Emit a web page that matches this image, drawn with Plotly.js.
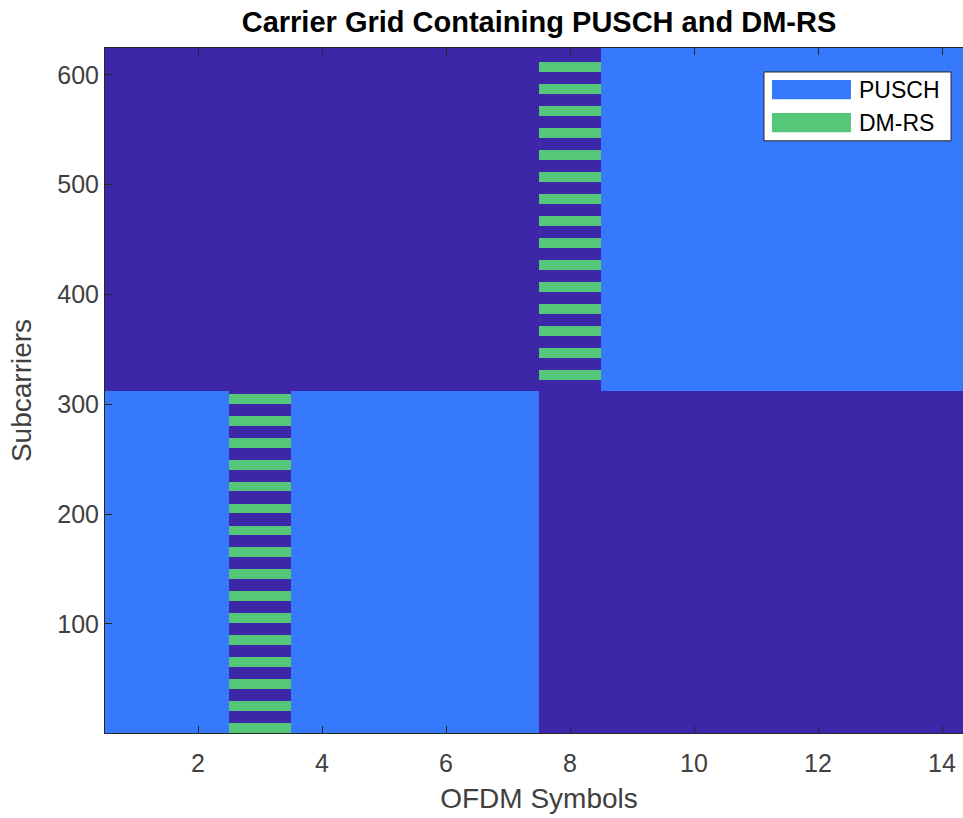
<!DOCTYPE html>
<html>
<head>
<meta charset="utf-8">
<script src="https://cdn.plot.ly/plotly-3.0.1.min.js"></script>
<style>
html,body{margin:0;padding:0;overflow:hidden;background:#fff;}
#chart{width:1000px;height:818px;}
</style>
</head>
<body>
<div id="chart"></div>
<script>
// ---- data ----
const symbols = [1,2,3,4,5,6,7,8,9,10,11,12,13,14];
const nSubcarriers = 624;
const puschLowSymbols = [1,2,4,5,6,7];
const puschLowRange = [1,312];
const puschHighSymbols = [9,10,11,12,13,14];
const puschHighRange = [313,624];
const dmrsLowSymbol = 3;
const dmrsHighSymbol = 8;
const dmrsLowStarts = [1,21,41,61,81,101,121,141,161,181,201,221,241,261,281,301];
const dmrsHighStarts = [323,343,363,383,403,423,443,463,483,503,523,543,563,583,603];
const dmrsBandRows = 9;
const xTicks = [2,4,6,8,10,12,14];
const yTicks = [100,200,300,400,500,600];
const legendNames = ['PUSCH','DM-RS'];

// ---- build grid: 0 empty, 1 PUSCH, 2 DM-RS ----
const subcarriers = [];
for (let k = 1; k <= nSubcarriers; k++) subcarriers.push(k);
const z = subcarriers.map(() => symbols.map(() => 0));
function fill(symList, range, val){
  symList.forEach(s => {
    for (let k = range[0]; k <= range[1]; k++) z[k-1][s-1] = val;
  });
}
fill(puschLowSymbols, puschLowRange, 1);
fill(puschHighSymbols, puschHighRange, 1);
dmrsLowStarts.forEach(st => fill([dmrsLowSymbol], [st, st+dmrsBandRows-1], 2));
dmrsHighStarts.forEach(st => fill([dmrsHighSymbol], [st, st+dmrsBandRows-1], 2));

const cEmpty = '#3d26a8', cPusch = '#3679fd', cDmrs = '#54c878';
const legendColors = [cPusch, cDmrs];
const FONT = 'Liberation Sans, Arial, Helvetica, sans-serif';

const traces = [
  {
    type: 'heatmap', x: symbols, y: subcarriers, z: z,
    zmin: 0, zmax: 2, zsmooth: false, showscale: false, hoverinfo: 'skip',
    colorscale: [[0,cEmpty],[0.333,cEmpty],[0.333,cPusch],[0.667,cPusch],[0.667,cDmrs],[1,cDmrs]],
    showlegend: false
  }
];

// ---- legend drawn as a MATLAB-style box (paper coordinates) ----
const shapes = [
  {type:'rect', xref:'paper', yref:'paper', x0:0.7592, x1:0.9747, y0:0.8645, y1:0.9650,
   fillcolor:'#fff', line:{color:'#262626', width:1}, layer:'above'}
];
const annotations = [];
const rowTop = [0.9533, 0.9051];
const rowTxt = [0.9387, 0.8905];
legendNames.forEach((n, i) => {
  shapes.push({type:'rect', xref:'paper', yref:'paper', x0:0.7684, x1:0.8594,
               y0:rowTop[i]-0.0280, y1:rowTop[i], fillcolor:legendColors[i],
               line:{width:0}, layer:'above'});
  annotations.push({xref:'paper', yref:'paper', x:0.8664, y:rowTxt[i], xanchor:'left', yanchor:'middle',
                    text:n, showarrow:false, font:{family:FONT, size:23, color:'#000'}});
});

const axisCommon = {
  showgrid:false, zeroline:false, showline:true, linecolor:'#262626', linewidth:1,
  mirror:'ticks', ticks:'inside', ticklen:7, tickcolor:'#262626',
  tickfont:{family:FONT, size:25, color:'#404040'}
};

const layout = {
  width:1000, height:818,
  margin:{l:105, r:27, t:48, b:85},
  paper_bgcolor:'#fff', plot_bgcolor:'#fff',
  font:{family:FONT, color:'#262626'},
  showlegend:false,
  title:{text:'<b>Carrier Grid Containing PUSCH and DM-RS</b>', x:0.5, xref:'paper', xanchor:'center',
         y:0.973, yref:'container', yanchor:'middle',
         font:{family:FONT, size:29, color:'#000'}},
  xaxis: Object.assign({}, axisCommon, {
    range:[0.5,14.5], tickvals:xTicks, ticktext:xTicks.map(String), ticklabelstandoff:8,
    title:{text:'OFDM Symbols', font:{family:FONT, size:28, color:'#404040'}, standoff:12}
  }),
  yaxis: Object.assign({}, axisCommon, {
    range:[0.5,624.5], tickvals:yTicks, ticktext:yTicks.map(String),
    title:{text:'Subcarriers', font:{family:FONT, size:28, color:'#404040'}, standoff:17}
  }),
  shapes: shapes,
  annotations: annotations
};

Plotly.newPlot('chart', traces, layout, {displayModeBar:false, staticPlot:true});
</script>
</body>
</html>
